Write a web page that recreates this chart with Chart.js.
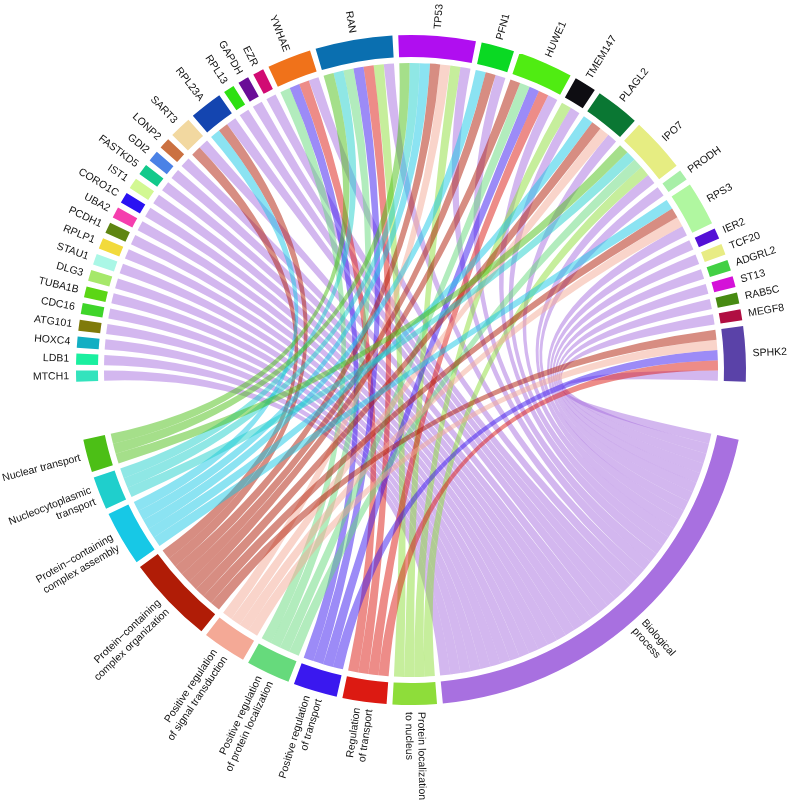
<!DOCTYPE html>
<html>
<head>
<meta charset="utf-8">
<script src="https://cdn.jsdelivr.net/npm/chart.js@4"></script>
<style>
  html, body { margin: 0; padding: 0; background: #fff; }
  #chord { display: block; }
</style>
</head>
<body>
<canvas id="chord" width="790" height="803"></canvas>
<script>
// GO terms, clockwise starting just below 3 o'clock
const terms = ['Biological process', 'Protein localization to nucleus', 'Regulation of transport',
  'Positive regulation of transport', 'Positive regulation of protein localization',
  'Positive regulation of signal transduction', 'Protein-containing complex organization',
  'Protein-containing complex assembly', 'Nucleocytoplasmic transport', 'Nuclear transport'];
const termLines = [['Biological', 'process'], ['Protein localization', 'to nucleus'], ['Regulation', 'of transport'],
  ['Positive regulation', 'of transport'], ['Positive regulation', 'of protein localization'],
  ['Positive regulation', 'of signal transduction'], ['Protein\u2212containing', 'complex organization'],
  ['Protein\u2212containing', 'complex assembly'], ['Nucleocytoplasmic', 'transport'], ['Nuclear transport']];
const termColors = ['#a870e0', '#8edd3a', '#dc1a12', '#3a18ef', '#66da7c',
  '#f4a996', '#b01c06', '#17c8e6', '#1fcfcc', '#4cbf16'];

// genes, clockwise from 9 o'clock over the top
const genes = ['MTCH1', 'LDB1', 'HOXC4', 'ATG101', 'CDC16', 'TUBA1B', 'DLG3', 'STAU1', 'RPLP1', 'PCDH1',
  'UBA2', 'CORO1C', 'IST1', 'FASTKD5', 'GDI2', 'LONP2', 'SART3', 'RPL23A', 'RPL13', 'GAPDH', 'EZR',
  'YWHAE', 'RAN', 'TP53', 'PFN1', 'HUWE1', 'TMEM147', 'PLAGL2', 'IPO7', 'PRODH', 'RPS3', 'IER2',
  'TCF20', 'ADGRL2', 'ST13', 'RAB5C', 'MEGF8', 'SPHK2'];
const geneColors = ['#33e3bd', '#1aef9f', '#12afc3', '#7f7a0a', '#3fd52a', '#5bd615', '#a6e86a', '#aaf7e6',
  '#f2da3c', '#5e8512', '#f53eae', '#2a12f2', '#d2f892', '#12c98b', '#4b82e6', '#cb7141', '#f2d8a0',
  '#1445b0', '#2ee012', '#6a0d97', '#d10b73', '#f0721a', '#0a6fb0', '#b00ef0', '#0ad923', '#50ec12',
  '#0e0d12', '#0a7733', '#e6ed82', '#a8efa8', '#b0f7a0', '#5410d6', '#e8ec84', '#42d044', '#d412d8',
  '#478a12', '#b00e42', '#5a42a8'];

// genes annotated to each term
const biologicalProcess = ['MTCH1', 'LDB1', 'HOXC4', 'ATG101', 'CDC16', 'TUBA1B', 'DLG3', 'STAU1', 'RPLP1',
  'PCDH1', 'UBA2', 'CORO1C', 'IST1', 'FASTKD5', 'GDI2', 'LONP2', 'SART3', 'RPL23A', 'RPL13', 'GAPDH',
  'EZR', 'YWHAE', 'RAN', 'TP53', 'PFN1', 'HUWE1', 'TMEM147', 'PLAGL2', 'IPO7', 'PRODH', 'RPS3', 'IER2',
  'TCF20', 'ADGRL2', 'ST13', 'RAB5C', 'MEGF8', 'SPHK2'];
const proteinLocNucleus = ['RAN', 'TP53', 'TMEM147', 'IPO7'];
const regTransport = ['YWHAE', 'RAN', 'HUWE1', 'SPHK2'];
const posRegTransport = ['YWHAE', 'RAN', 'HUWE1', 'SPHK2'];
const posRegProteinLoc = ['YWHAE', 'RAN', 'HUWE1', 'IPO7'];
const posRegSignal = ['TP53', 'PLAGL2', 'RPS3', 'SPHK2'];
const complexOrganization = ['SART3', 'RPL23A', 'TP53', 'PFN1', 'HUWE1', 'PLAGL2', 'RPS3', 'SPHK2'];
const complexAssembly = ['RPL23A', 'TP53', 'PFN1', 'PLAGL2', 'RPS3'];
const nucleocytoplasmic = ['RAN', 'TP53', 'IPO7'];
const nuclearTransport = ['RAN', 'TP53', 'IPO7'];
const termMembers = [biologicalProcess, proteinLocNucleus, regTransport, posRegTransport, posRegProteinLoc,
  posRegSignal, complexOrganization, complexAssembly, nucleocytoplasmic, nuclearTransport];

// sectors: terms first (0..9), then genes
const nT = terms.length;
const sectorColors = termColors.concat(geneColors);
const nS = nT + genes.length;
const links = [];
termMembers.forEach((members, t) => {
  members.forEach(g => links.push({ t: t, g: nT + genes.indexOf(g) }));
});
const count = new Array(nS).fill(0);
const ends = [];
for (let s = 0; s < nS; s++) ends.push([]);
links.forEach((l, i) => {
  count[l.t]++; count[l.g]++;
  ends[l.t].push({ link: i, other: l.g });
  ends[l.g].push({ link: i, other: l.t });
});
// within a sector order links by partner, reversed, so ribbons do not cross
const slotT = [], slotG = [];
ends.forEach((list, s) => {
  list.sort((a, b) => b.other - a.other);
  list.forEach((e, k) => {
    if (s < nT) slotT[e.link] = k; else slotG[e.link] = k;
  });
});

const smallGap = 1, bigGap = 10;
const unit = (360 - (nS - 2) * smallGap - 2 * bigGap) / links.length / 2;
const values = [], colors = [];
for (let s = 0; s < nS; s++) {
  values.push(count[s] * unit); colors.push(sectorColors[s]);
  values.push((s === nT - 1 || s === nS - 1) ? bigGap : smallGap); colors.push('rgba(0,0,0,0)');
}

function rgba(hex, a) {
  const n = parseInt(hex.slice(1), 16);
  return 'rgba(' + (n >> 16) + ',' + ((n >> 8) & 255) + ',' + (n & 255) + ',' + a + ')';
}

const chordPlugin = {
  id: 'chord',
  beforeDatasetsDraw(chart) {
    const arcs = chart.getDatasetMeta(0).data;
    const ctx = chart.ctx;
    const cx = arcs[0].x, cy = arcs[0].y;
    const r = arcs[0].innerRadius - 6;
    const slot = (s, k) => {
      const a = arcs[2 * s];
      const w = (a.endAngle - a.startAngle) / count[s];
      return [a.startAngle + k * w, a.startAngle + (k + 1) * w];
    };
    ctx.save();
    links.forEach((l, i) => {
      const [a1, a2] = slot(l.g, slotG[i]);
      const [b1, b2] = slot(l.t, slotT[i]);
      ctx.beginPath();
      ctx.moveTo(cx + r * Math.cos(a1), cy + r * Math.sin(a1));
      ctx.arc(cx, cy, r, a1, a2);
      ctx.quadraticCurveTo(cx, cy, cx + r * Math.cos(b1), cy + r * Math.sin(b1));
      ctx.arc(cx, cy, r, b1, b2);
      ctx.quadraticCurveTo(cx, cy, cx + r * Math.cos(a1), cy + r * Math.sin(a1));
      ctx.closePath();
      ctx.fillStyle = rgba(termColors[l.t], 0.5);
      ctx.fill();
    });
    ctx.restore();
  },
  afterDatasetsDraw(chart) {
    const arcs = chart.getDatasetMeta(0).data;
    const ctx = chart.ctx;
    const cx = arcs[0].x, cy = arcs[0].y;
    const rl = arcs[0].outerRadius + 7;
    ctx.save();
    ctx.font = '10.5px "Liberation Sans", Arial, sans-serif';
    ctx.fillStyle = '#111';
    ctx.textBaseline = 'middle';
    for (let s = 0; s < nS; s++) {
      const a = arcs[2 * s];
      const th = (a.startAngle + a.endAngle) / 2;
      const lines = s < nT ? termLines[s] : [genes[s - nT]];
      const left = Math.cos(th) < 0;
      ctx.save();
      ctx.translate(cx, cy);
      ctx.rotate(left ? th + Math.PI : th);
      ctx.textAlign = left ? 'right' : 'left';
      lines.forEach((txt, i) => {
        const y = (i - (lines.length - 1) / 2) * 12.5;
        ctx.fillText(txt, left ? -rl : rl, y);
      });
      ctx.restore();
    }
    ctx.restore();
  }
};

new Chart(document.getElementById('chord'), {
  type: 'doughnut',
  data: {
    labels: values.map((v, i) => i),
    datasets: [{ data: values, backgroundColor: colors, borderWidth: 0 }]
  },
  options: {
    responsive: false,
    animation: false,
    events: [],
    rotation: 102,
    circumference: 360,
    cutout: 313,
    layout: { padding: { left: 76, right: 44, top: 35, bottom: 98 } },
    plugins: { legend: { display: false }, tooltip: { enabled: false } }
  },
  plugins: [chordPlugin]
});
</script>
</body>
</html>
